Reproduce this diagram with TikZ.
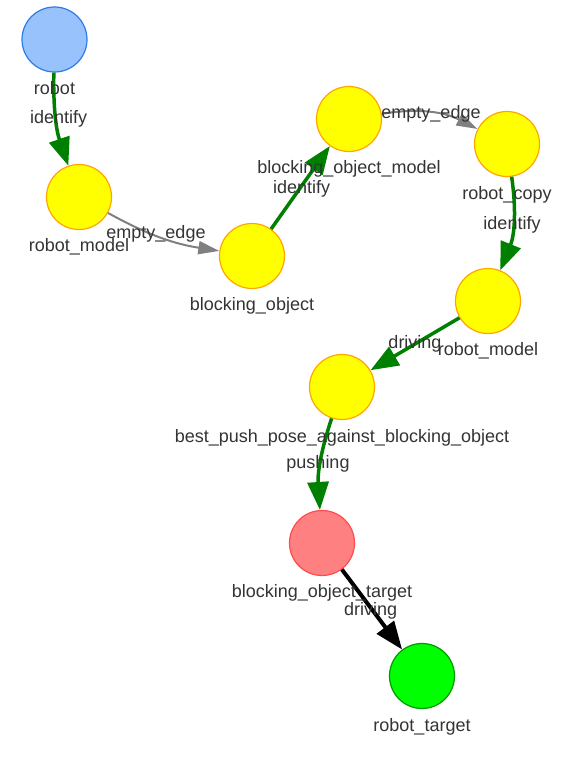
\documentclass[tikz,border=0pt]{standalone}
\usepackage{fontspec}
\setmainfont{Liberation Sans}
\usetikzlibrary{arrows.meta}
\definecolor{txt}{HTML}{343434}
\definecolor{bluefill}{HTML}{97C2FC}
\definecolor{blueline}{HTML}{2B7CE9}
\definecolor{yelfill}{HTML}{FFFF00}
\definecolor{yelline}{HTML}{FFA500}
\definecolor{redfill}{HTML}{FF8080}
\definecolor{redline}{HTML}{FF4B4B}
\definecolor{grnfill}{HTML}{00FF00}
\definecolor{grnline}{HTML}{009900}
\definecolor{egreen}{HTML}{008000}
\definecolor{egray}{HTML}{808080}
\begin{document}
\begin{tikzpicture}[x=1pt,y=-1pt,
  circ/.style={circle, minimum size=65pt, inner sep=0pt, line width=1.2pt},
  bluenode/.style={circ, fill=bluefill, draw=blueline},
  yelnode/.style={circ, fill=yelfill, draw=yelline},
  rednode/.style={circ, fill=redfill, draw=redline},
  grnnode/.style={circ, fill=grnfill, draw=grnline},
  lab/.style={anchor=base, text=txt, font=\fontsize{18}{20}\selectfont, inner sep=0pt},
  gedge/.style={draw=egreen, line width=3.5pt, -{Triangle[length=28pt,width=21pt]}},
  grayedge/.style={draw=egray, line width=2pt, -{Triangle[length=21pt,width=13pt]}},
  bedge/.style={draw=black, line width=4pt, -{Triangle[length=28pt,width=21pt]}}]
\useasboundingbox (0,0) rectangle (565,765);
\fill[white] (0,0) rectangle (565,765);

% nodes
\node[bluenode] (robot) at (54.5,39.5) {};
\node[yelnode] (rm1) at (79,197) {};
\node[yelnode] (bo) at (252,256) {};
\node[yelnode] (bom) at (349,119) {};
\node[yelnode] (rc) at (507,144) {};
\node[yelnode] (rm2) at (488,301) {};
\node[yelnode] (bp) at (342,387) {};
\node[rednode] (bot) at (322,543) {};
\node[grnnode] (rt) at (422,676) {};

% edges
\draw[gedge] (robot) to[bend right=10] (rm1);
\draw[grayedge] (rm1) to[bend right=10] (bo);
\draw[gedge] (bo) -- (bom);
\draw[grayedge] (bom) to[bend left=18] (rc);
\draw[gedge] (rc) to[bend left=15] (rm2);
\draw[gedge] (rm2) -- (bp);
\draw[gedge] (bp) to[bend right=11] (bot);
\draw[bedge] (bot) -- (rt);

% node labels
\node[lab] (robotL) at (54.5,95) {robot};
\node[lab] (rm1L) at (79,251) {robot\_model};
\node[lab] (boL) at (252,310) {blocking\_object};
\node[lab] (bomL) at (349,173) {blocking\_object\_model};
\node[lab] (rcL) at (507,199) {robot\_copy};
\node[lab] (rm2L) at (488,355) {robot\_model};
\node[lab] (bpL) at (342,442) {best\_push\_pose\_against\_blocking\_object};
\node[lab] (botL) at (322,597) {blocking\_object\_target};
\node[lab] (rtL) at (422,731) {robot\_target};

% edge labels
\node[lab] (e1) at (58.7,124) {identify};
\node[lab] (e2) at (156,238) {empty\_edge};
\node[lab] (e3) at (301.7,193) {identify};
\node[lab] (e4) at (431,118) {empty\_edge};
\node[lab] (e5) at (512,229) {identify};
\node[lab] (e6) at (415,348) {driving};
\node[lab] (e7) at (318,468) {pushing};
\node[lab] (e8) at (370.7,615) {driving};
\end{tikzpicture}
\end{document}
